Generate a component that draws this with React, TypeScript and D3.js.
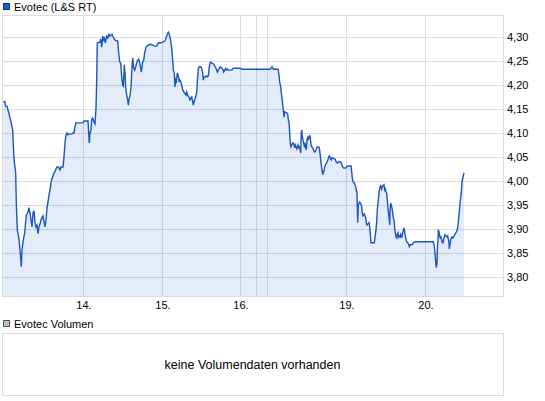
import React from "react";
import * as d3 from "d3";

// Trading-time slots (79 slots per full trading day), day 13 starts near slot 0
const slots = [
  -0.7, 1, 1.5, 3, 3.7, 5, 6, 7, 8.7, 9.5, 10.3, 11.7, 12.3, 13.3, 15, 16.7, 17.3, 18, 19.3, 20.7,
  21.7, 22.3, 23.7, 25, 26, 27, 28, 29, 30, 31, 32, 33, 34, 35, 36, 37, 38, 39, 40, 41,
  42, 43, 44, 45, 46, 47, 48, 49, 50, 51, 52, 53, 54, 55, 56, 57, 59, 60, 61, 62,
  63, 64, 65, 68, 69, 70, 71, 72, 79, 80, 84, 84.7, 85.3, 86, 87, 87.7, 88.7, 90, 91, 92,
  92.7, 93.3, 96, 96.7, 97.7, 98.7, 99.3, 100.3, 101.3, 102.7, 103.7, 105, 106, 107, 108, 109.3, 110.3, 112, 113.7, 114.7,
  115.7, 116.7, 117.7, 118.7, 119.3, 120, 120.3, 121, 121.7, 122.7, 123.7, 124.3, 125, 126, 127, 128, 128.7, 129.7, 130.7, 131.7,
  132.7, 133.7, 134.7, 135.7, 136.7, 137.3, 138, 138.7, 139.7, 140.7, 142, 142.7, 144.3, 146.7, 148.7, 151, 152.7, 154.3, 156.7, 159.3,
  161, 162, 163.3, 164.3, 165.3, 166, 167, 167.7, 168.7, 169.3, 170.3, 171, 171.7, 172.3, 173.3, 174, 174.7, 175.3, 176, 177,
  177.7, 178.7, 180, 181, 182, 182.7, 183.7, 185, 186, 187, 187.7, 188.3, 189.3, 190, 191, 192, 192.7, 193.3, 194.3, 195.3,
  196.7, 197.7, 198.7, 199.3, 200, 201, 202, 203.3, 204.3, 205.3, 206, 206.7, 207.7, 209.3, 210.7, 212, 213.3, 214.3, 215.3, 216.3,
  217.7, 218.7, 219.7, 220.7, 221.7, 222.7, 223.7, 224.7, 227.7, 229.3, 233.3, 236, 237.7, 266, 267, 268, 269.3, 274, 275, 275.7,
  276.7, 277.3, 278, 278.7, 279.3, 280, 280.7, 282.7, 283.7, 284.3, 285, 285.7, 286.3, 287, 287.7, 288.7, 289.3, 290, 290.7, 291.3,
  292, 292.7, 293.3, 294, 294.7, 295.3, 296, 296.7, 297.3, 297.7, 298.3, 299, 299.7, 300.3, 301, 301.7, 302.3, 303, 303.7, 304.3,
  305, 305.7, 306.3, 307, 307.7, 308.7, 309.7, 310.7, 311.7, 312.7, 313.7, 314.7, 315.3, 316, 316.7, 317.3, 318, 318.7, 319.3, 320,
  320.7, 321.3, 322, 322.7, 323.3, 324, 324.7, 325.3, 326, 326.7, 327.3, 328, 330, 331, 332, 333, 334, 335, 336, 337,
  337.7, 338.7, 339.7, 341.7, 342.7, 343.7, 347, 347.7, 348.3, 349, 350.3, 351, 351.7, 352.3, 353, 353.3, 353.7, 354.3, 355, 355.7,
  356.3, 357, 357.7, 358.3, 359, 359.7, 360.3, 361, 361.7, 362.3, 363, 363.7, 365, 365.7, 366.3, 367, 370.3, 371, 372, 372.7,
  373.3, 374, 375, 376, 376.7, 377.7, 378.3, 379, 380, 380.7, 381.3, 382, 382.7, 383.3, 384, 384.7, 385.3, 385.7, 386, 386.7,
  387.3, 388, 388.7, 389.3, 390, 390.7, 391.3, 392, 392.7, 393.3, 394, 394.7, 395.3, 396, 396.7, 397.3, 398, 398.7, 399.3, 400,
  400.7, 401.3, 402, 402.7, 403.7, 404.7, 405.3, 406, 408, 409.3, 410.7, 429.3, 430, 430.7, 431.3, 432, 432.3, 433, 433.3, 434,
  434.3, 435, 435.7, 436.3, 437, 437.7, 438.3, 439, 439.7, 440.3, 441, 442, 443, 443.7, 444.3, 445, 445.3, 446, 446.7, 447.3,
  448, 448.7, 449.3, 450, 450.7, 451.3, 452, 453.3, 454, 454.7, 455.3, 456, 456.7, 457.3, 458, 458.7, 459.3, 460,
];

const prices = [
  4.165, 4.165, 4.156, 4.156, 4.150, 4.140, 4.131, 4.123, 4.106, 4.065, 4.040, 4.017, 3.954, 3.898, 3.879, 3.838, 3.821, 3.856, 3.877, 3.892,
  3.915, 3.929, 3.933, 3.944, 3.933, 3.919, 3.904, 3.933, 3.938, 3.913, 3.904, 3.908, 3.890, 3.904, 3.910, 3.919, 3.923, 3.927, 3.915, 3.904,
  3.919, 3.944, 3.956, 3.971, 3.981, 3.996, 4.006, 4.010, 4.017, 4.019, 4.025, 4.029, 4.029, 4.027, 4.023, 4.029, 4.029, 4.050, 4.079, 4.096,
  4.100, 4.096, 4.098, 4.098, 4.100, 4.100, 4.113, 4.121, 4.121, 4.125, 4.125, 4.100, 4.079, 4.100, 4.106, 4.129, 4.131, 4.123, 4.119, 4.152,
  4.210, 4.288, 4.290, 4.296, 4.279, 4.302, 4.294, 4.298, 4.288, 4.302, 4.298, 4.306, 4.302, 4.304, 4.306, 4.300, 4.296, 4.292, 4.292, 4.267,
  4.248, 4.246, 4.217, 4.200, 4.198, 4.225, 4.242, 4.225, 4.194, 4.179, 4.169, 4.158, 4.169, 4.179, 4.194, 4.238, 4.256, 4.235, 4.231, 4.238,
  4.246, 4.252, 4.254, 4.246, 4.235, 4.227, 4.238, 4.248, 4.252, 4.267, 4.279, 4.281, 4.283, 4.285, 4.283, 4.281, 4.281, 4.288, 4.288, 4.290,
  4.292, 4.298, 4.306, 4.310, 4.306, 4.300, 4.288, 4.277, 4.252, 4.231, 4.225, 4.196, 4.215, 4.204, 4.225, 4.221, 4.215, 4.206, 4.210, 4.206,
  4.200, 4.190, 4.185, 4.183, 4.179, 4.185, 4.179, 4.175, 4.169, 4.173, 4.175, 4.169, 4.158, 4.165, 4.171, 4.177, 4.185, 4.206, 4.233, 4.238,
  4.238, 4.235, 4.225, 4.210, 4.217, 4.217, 4.219, 4.217, 4.219, 4.238, 4.246, 4.248, 4.246, 4.244, 4.240, 4.235, 4.227, 4.231, 4.235, 4.238,
  4.235, 4.233, 4.227, 4.231, 4.235, 4.231, 4.233, 4.231, 4.231, 4.235, 4.235, 4.235, 4.233, 4.233, 4.235, 4.238, 4.233, 4.233, 4.221, 4.206,
  4.196, 4.183, 4.173, 4.158, 4.148, 4.133, 4.144, 4.142, 4.140, 4.127, 4.123, 4.100, 4.079, 4.071, 4.075, 4.079, 4.079, 4.075, 4.069, 4.075,
  4.071, 4.067, 4.071, 4.075, 4.069, 4.071, 4.067, 4.058, 4.102, 4.106, 4.092, 4.085, 4.079, 4.073, 4.077, 4.069, 4.065, 4.085, 4.090, 4.085,
  4.092, 4.094, 4.090, 4.075, 4.071, 4.069, 4.063, 4.060, 4.063, 4.069, 4.071, 4.071, 4.069, 4.058, 4.044, 4.033, 4.023, 4.013, 4.017, 4.021,
  4.029, 4.033, 4.035, 4.038, 4.040, 4.044, 4.050, 4.052, 4.050, 4.046, 4.044, 4.048, 4.046, 4.046, 4.040, 4.038, 4.038, 4.040, 4.040, 4.038,
  4.035, 4.029, 4.027, 4.027, 4.029, 4.031, 4.031, 4.019, 4.006, 3.998, 3.996, 3.992, 3.988, 3.981, 3.975, 3.946, 3.913, 3.950, 3.954, 3.956,
  3.954, 3.952, 3.946, 3.933, 3.927, 3.929, 3.931, 3.927, 3.923, 3.913, 3.908, 3.910, 3.913, 3.904, 3.890, 3.871, 3.871, 3.883, 3.898, 3.915,
  3.940, 3.954, 3.975, 3.988, 3.990, 3.983, 3.988, 3.990, 3.992, 3.981, 3.983, 3.977, 3.975, 3.960, 3.944, 3.929, 3.919, 3.908, 3.935, 3.954,
  3.950, 3.944, 3.933, 3.923, 3.919, 3.902, 3.892, 3.883, 3.881, 3.888, 3.892, 3.883, 3.885, 3.883, 3.888, 3.883, 3.883, 3.892, 3.896, 3.902,
  3.894, 3.885, 3.879, 3.873, 3.871, 3.867, 3.863, 3.867, 3.867, 3.871, 3.873, 3.873, 3.867, 3.856, 3.842, 3.825, 3.819, 3.829, 3.856, 3.877,
  3.898, 3.894, 3.885, 3.881, 3.883, 3.877, 3.871, 3.871, 3.879, 3.883, 3.888, 3.885, 3.883, 3.885, 3.879, 3.871, 3.858, 3.867, 3.877, 3.881,
  3.883, 3.881, 3.883, 3.885, 3.888, 3.890, 3.892, 3.898, 3.908, 3.923, 3.935, 3.954, 3.965, 3.977, 3.996, 4.006, 4.010, 4.017,
];

const yTicks = [3.8, 3.85, 3.9, 3.95, 4.0, 4.05, 4.1, 4.15, 4.2, 4.25, 4.3];
const daySlots = [79, 158, 236, 252, 263, 342, 421];
const dayLabels = ["14.", "15.", "16.", "", "", "19.", "20."];

const seriesName = "Evotec (L&S RT)";
const volumeName = "Evotec Volumen";
const noVolumeText = "keine Volumendaten vorhanden";

const W = 545;
const H = 401;
const plot = { left: 2, right: 503, top: 15, bottom: 296 };
const vol = { top: 333, bottom: 395 };
const FONT = "Arial, 'Liberation Sans', sans-serif";

export default function App() {
  const x = d3.scaleLinear().domain([-2, 499]).range([plot.left, plot.right]);
  const y = d3.scaleLinear().domain([3.76, 4.346]).range([plot.bottom, plot.top]);
  const data = slots.map((s, i) => ({ s, p: prices[i] }));
  const line = d3.line<{ s: number; p: number }>().x((d) => x(d.s)).y((d) => y(d.p));
  const area = d3
    .area<{ s: number; p: number }>()
    .x((d) => x(d.s))
    .y0(plot.bottom)
    .y1((d) => y(d.p));
  const fmt = (v: number) => d3.format(".2f")(v).replace(".", ",");
  const grid = "#dcdcdc";
  const snap = (v: number) => Math.round(v) + 0.5;

  return (
    <svg
      width={W}
      height={H}
      style={{ position: "absolute", left: 0, top: 0, background: "#fff" }}
      fontFamily={FONT}
    >
      {/* legend */}
      <rect x={3.5} y={3.5} width={6} height={6} fill="#1f5cc8" stroke="#0d2f6e" />
      <text x={14} y={10.5} fontSize={11} fill="#000">
        {seriesName}
      </text>

      {/* grid */}
      <g shapeRendering="crispEdges">
        {yTicks.map((t) => (
          <line key={t} x1={plot.left} x2={plot.right} y1={snap(y(t))} y2={snap(y(t))} stroke={grid} />
        ))}
        {daySlots.map((d) => (
          <line key={d} x1={snap(x(d))} x2={snap(x(d))} y1={plot.top} y2={plot.bottom} stroke={grid} />
        ))}
      </g>

      {/* price area */}
      <path d={area(data) || ""} fill="rgb(30,95,225)" fillOpacity={0.12} />
      <path d={line(data) || ""} fill="none" stroke="#1a55c2" strokeWidth={1.4} strokeLinejoin="miter" />

      {/* frame */}
      <rect
        x={plot.left + 0.5}
        y={plot.top + 0.5}
        width={plot.right - plot.left}
        height={plot.bottom - plot.top}
        fill="none"
        stroke={grid}
        shapeRendering="crispEdges"
      />

      {/* y labels */}
      {yTicks.map((t) => (
        <text key={t} x={plot.right + 4} y={y(t) + 4} fontSize={11} fill="#000">
          {fmt(t)}
        </text>
      ))}

      {/* x labels */}
      {daySlots.map((d, i) =>
        dayLabels[i] ? (
          <text key={d} x={x(d) + 1} y={309} fontSize={11} textAnchor="middle" fill="#000">
            {dayLabels[i]}
          </text>
        ) : null
      )}

      {/* volume panel */}
      <rect x={3.5} y={320.5} width={6} height={6} fill="#bdbdbd" stroke="#555" />
      <text x={14} y={328} fontSize={11} fill="#000">
        {volumeName}
      </text>
      <rect
        x={plot.left + 0.5}
        y={vol.top + 0.5}
        width={plot.right - plot.left}
        height={vol.bottom - vol.top}
        fill="#fff"
        stroke={grid}
        shapeRendering="crispEdges"
      />
      <text
        x={(plot.left + plot.right) / 2}
        y={(vol.top + vol.bottom) / 2 + 4.5}
        fontSize={12.5}
        textAnchor="middle"
        fill="#000"
      >
        {noVolumeText}
      </text>
    </svg>
  );
}
